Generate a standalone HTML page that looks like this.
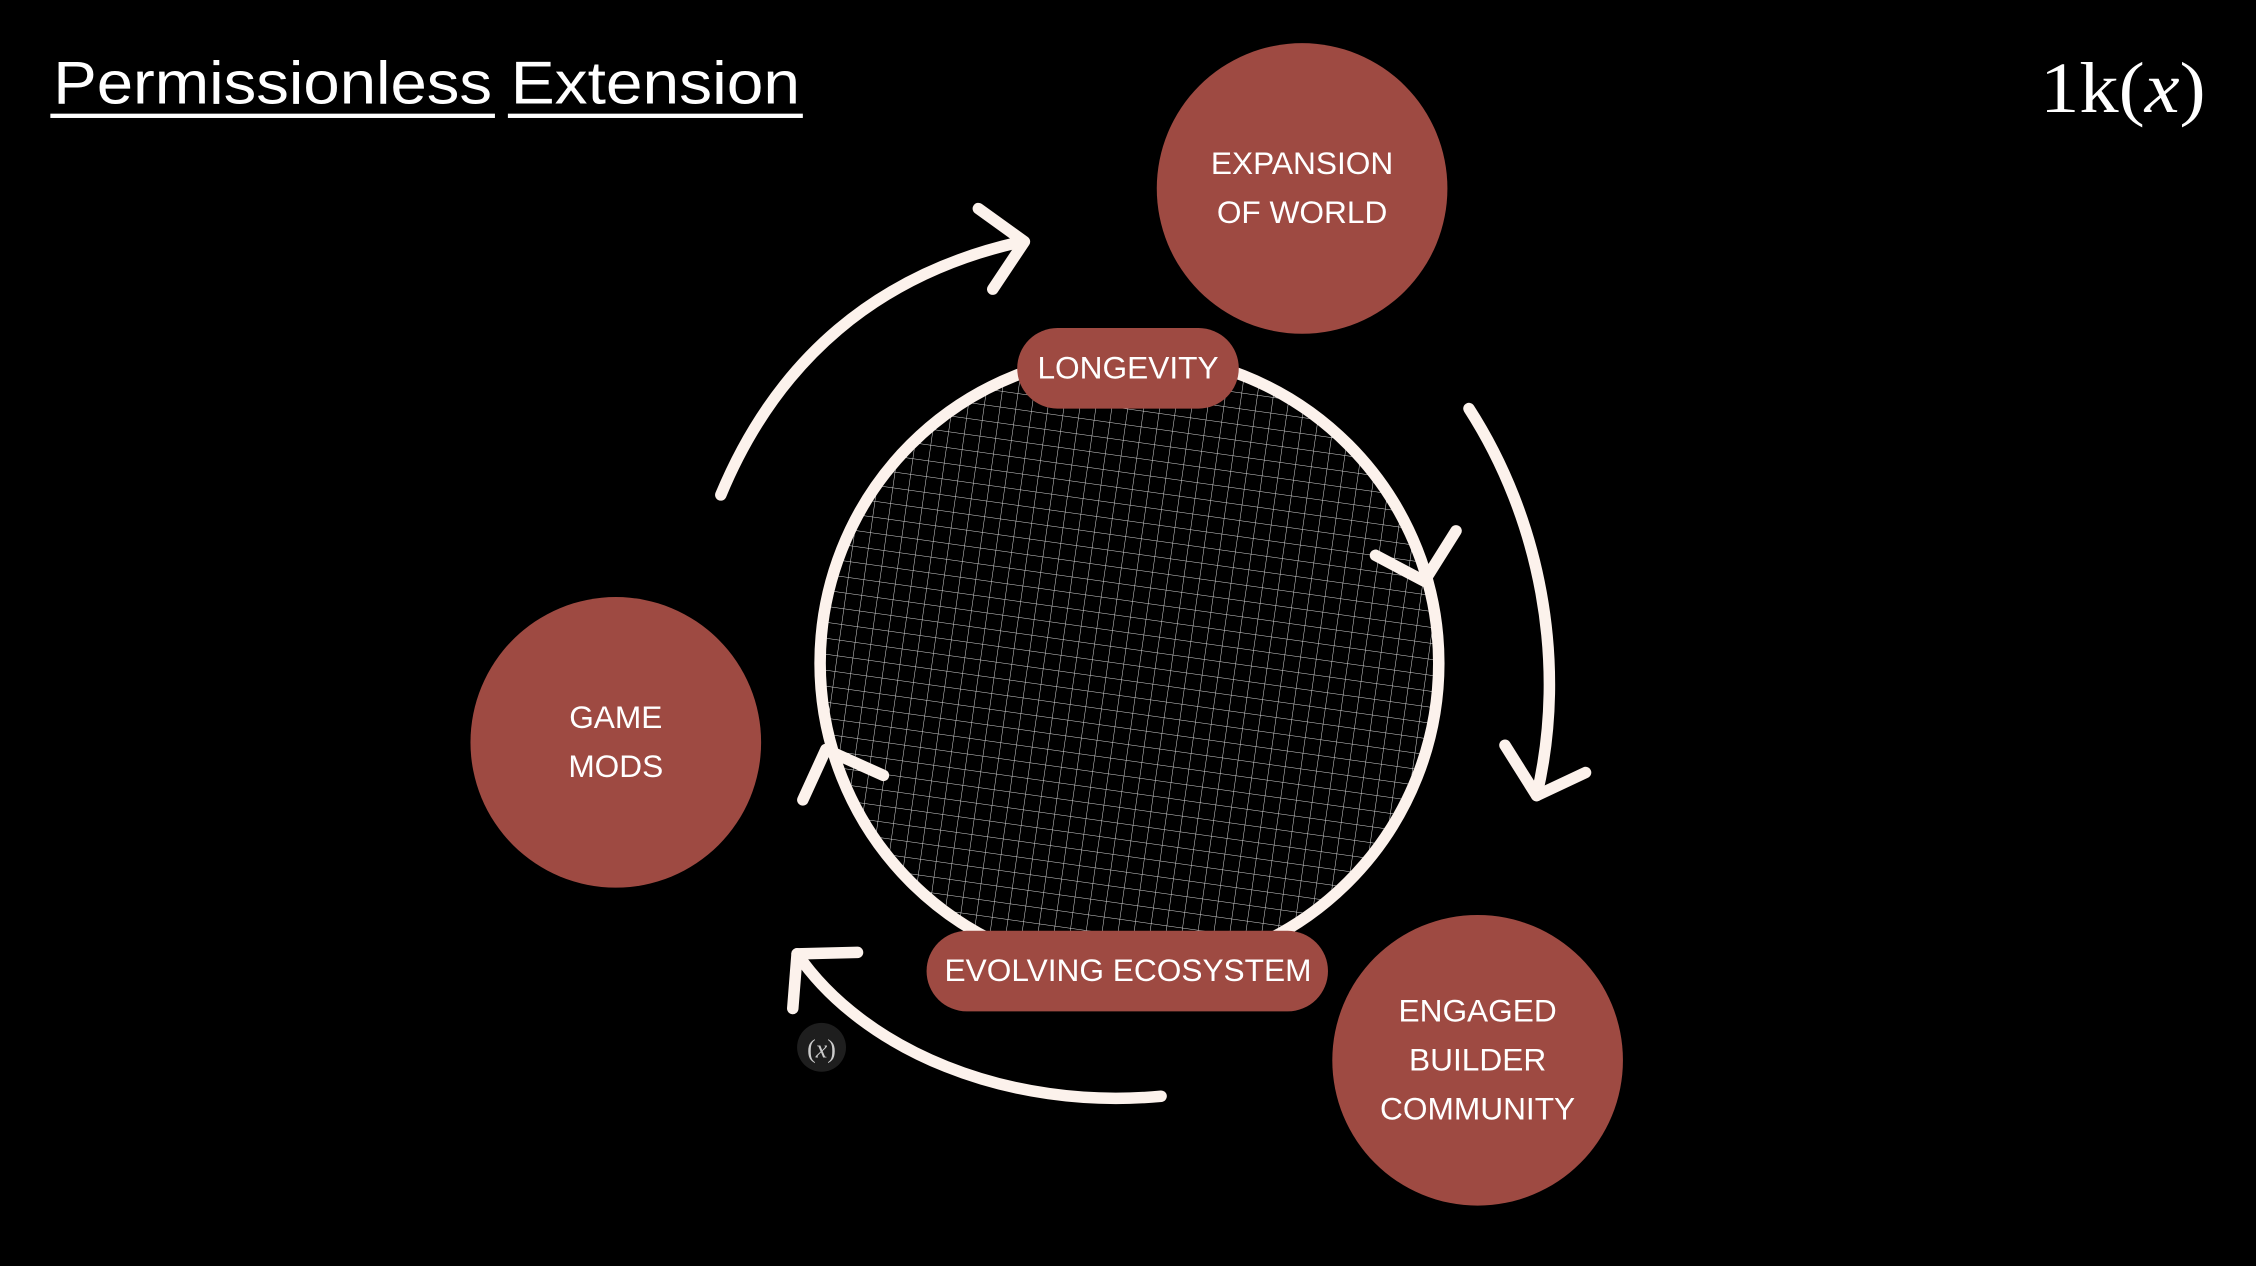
<!DOCTYPE html>
<html><head><meta charset="utf-8"><style>
html,body{margin:0;padding:0;background:#000;}
svg{display:block;}
</style></head><body>
<svg width="2256" height="1266" viewBox="0 0 1568 880" preserveAspectRatio="none" xmlns="http://www.w3.org/2000/svg">
<defs>
<clipPath id="sc"><circle cx="785" cy="461" r="213"/></clipPath>
<pattern id="grid" width="11" height="11" patternUnits="userSpaceOnUse">
<path d="M0 0H11M0 0V11" stroke="#d8d8d8" stroke-width="0.7" fill="none"/>
</pattern>
</defs>
<rect width="1568" height="880" fill="#000"/>
<text x="37" y="72" font-family="Liberation Sans, sans-serif" font-size="42" fill="#fff" textLength="305" lengthAdjust="spacingAndGlyphs">Permissionless</text>
<text x="355" y="72" font-family="Liberation Sans, sans-serif" font-size="42" fill="#fff" textLength="201" lengthAdjust="spacingAndGlyphs">Extension</text>
<rect x="35" y="79" width="309" height="3" fill="#fff"/>
<rect x="353" y="79" width="205" height="3" fill="#fff"/>
<text x="1418" y="78" font-family="Liberation Serif, serif" font-size="50" fill="#fff" textLength="115" lengthAdjust="spacingAndGlyphs">1k(<tspan font-style="italic">x</tspan>)</text>

<g clip-path="url(#sc)">
<circle cx="785" cy="461" r="213" fill="#000"/>
<g transform="rotate(8 785 461)"><rect x="560" y="240" width="460" height="460" fill="url(#grid)"/></g>
</g>
<circle cx="785" cy="461" r="215" fill="none" stroke="#fcf2ec" stroke-width="8"/>

<circle cx="905" cy="131" r="101" fill="#9e4a42"/>
<circle cx="428" cy="516" r="101" fill="#9e4a42"/>
<circle cx="1027" cy="737" r="101" fill="#9e4a42"/>
<g font-family="Liberation Sans, sans-serif" font-size="22" fill="#fff" text-anchor="middle">
<text x="905" y="121">EXPANSION</text><text x="905" y="155">OF WORLD</text>
<text x="428" y="506">GAME</text><text x="428" y="540">MODS</text>
<text x="1027" y="710">ENGAGED</text><text x="1027" y="744">BUILDER</text><text x="1027" y="778">COMMUNITY</text>
</g>
<rect x="707" y="228" width="154" height="56" rx="28" fill="#9e4a42"/>
<rect x="644" y="647" width="279" height="56" rx="28" fill="#9e4a42"/>
<g font-family="Liberation Sans, sans-serif" font-size="22" fill="#fff" text-anchor="middle">
<text x="784" y="263">LONGEVITY</text>
<text x="784" y="682">EVOLVING ECOSYSTEM</text>
</g>

<g fill="none" stroke="#fcf2ec" stroke-width="8" stroke-linecap="round" stroke-linejoin="round">
<path d="M501 344 C540 250 610 190 710 168"/>
<path d="M680 145 L712 168 L690 201"/>
<path d="M1021 284 C1070 360 1090 460 1068 553"/>
<path d="M1046 518 L1068 553 L1102 537"/>
<path d="M807 762 C700 772 600 730 554 663"/>
<path d="M596 662 L554 663 L551 701"/>
<path d="M956 386 L990 404 L1012 369"/>
<path d="M558 556 L574 521 L614 539"/>
</g>
<circle cx="571" cy="728" r="17" fill="#1e1e1e"/>
<text x="571" y="735" font-family="Liberation Serif, serif" font-size="18" fill="#ccc" text-anchor="middle">(<tspan font-style="italic">x</tspan>)</text>
</svg>
</body></html>
